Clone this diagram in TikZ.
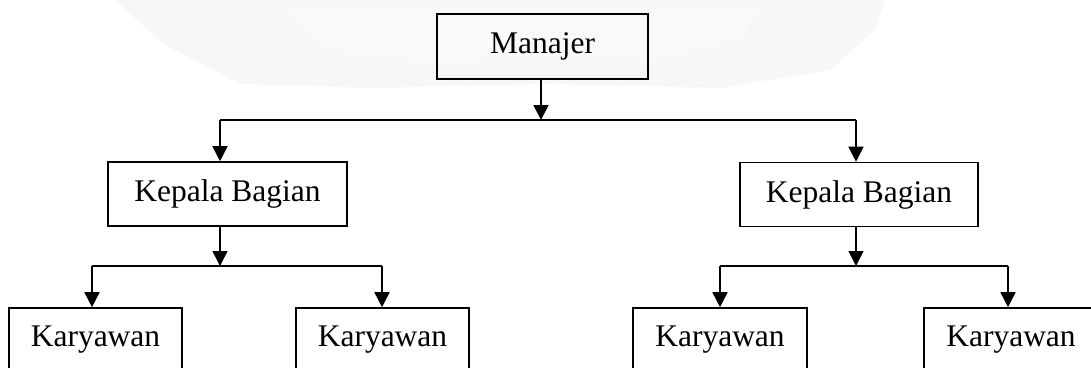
\documentclass[tikz,border=0pt]{standalone}
\usepackage{fontspec}
\setmainfont{Liberation Serif}
\usetikzlibrary{arrows.meta}
\begin{document}
\begin{tikzpicture}[x=1pt,y=-1pt,
  box/.style={draw=black,line width=1.6pt,rectangle,inner sep=0pt,
    font=\fontsize{31.5}{36}\selectfont},
  conn/.style={line width=1.6pt},
  arr/.style={line width=1.6pt,-{Triangle[width=15pt,length=15pt]}}]
\useasboundingbox (0,0) rectangle (1091,367);
\clip (0,0) rectangle (1091,367);
% faint watermark
\fill[gray!6] (115,0) -- (885,0) -- (875,30) -- (830,70) -- (720,88) -- (545,84) -- (370,88) -- (240,84) -- (165,45) -- cycle;
\fill[gray!6] (160,0) -- (850,0) -- (840,25) -- (800,62) -- (690,80) -- (545,76) -- (395,82) -- (265,76) -- (195,38) -- cycle;
\fill[gray!6] (210,0) -- (810,0) -- (795,28) -- (750,55) -- (660,72) -- (545,68) -- (420,74) -- (300,65) -- (240,30) -- cycle;
\fill[gray!5] (280,8) -- (760,8) -- (740,40) -- (650,62) -- (545,58) -- (430,64) -- (330,52) -- cycle;
% nodes
\node[box,minimum width=211pt,minimum height=65pt] (man) at (542.5,46.5) {Manajer};
\node[box,minimum width=239pt,minimum height=64pt] (kl) at (227.5,194) {Kepala Bagian};
\node[box,minimum width=238pt,minimum height=64pt] (kr) at (859,194.5) {Kepala Bagian};
\node[box,minimum width=173pt,minimum height=64pt] (k1) at (95.5,340) {Karyawan};
\node[box,minimum width=173pt,minimum height=64pt] (k2) at (382.5,340) {Karyawan};
\node[box,minimum width=174pt,minimum height=64pt] (k3) at (720,340) {Karyawan};
\node[box,minimum width=174pt,minimum height=64pt] (k4) at (1011,340) {Karyawan};
% junctions
\coordinate (j0) at (541,120);
\coordinate (a1) at (220,120);
\coordinate (a2) at (856,120);
\coordinate (jl) at (220,266);
\coordinate (jr) at (856,266);
\coordinate (b1) at (92,266);
\coordinate (b2) at (382,266);
\coordinate (b3) at (720,266);
\coordinate (b4) at (1008,266);
% connectors
\draw[arr] (man.south -| j0) -- (j0);
\draw[conn] (a1) -- (a2);
\draw[arr] (a1) -- (a1 |- kl.north);
\draw[arr] (a2) -- (a2 |- kr.north);
\draw[arr] (kl.south -| jl) -- (jl);
\draw[arr] (kr.south -| jr) -- (jr);
\draw[conn] (b1) -- (b2);
\draw[conn] (b3) -- (b4);
\draw[arr] (b1) -- (b1 |- k1.north);
\draw[arr] (b2) -- (b2 |- k2.north);
\draw[arr] (b3) -- (b3 |- k3.north);
\draw[arr] (b4) -- (b4 |- k4.north);
\end{tikzpicture}
\end{document}
